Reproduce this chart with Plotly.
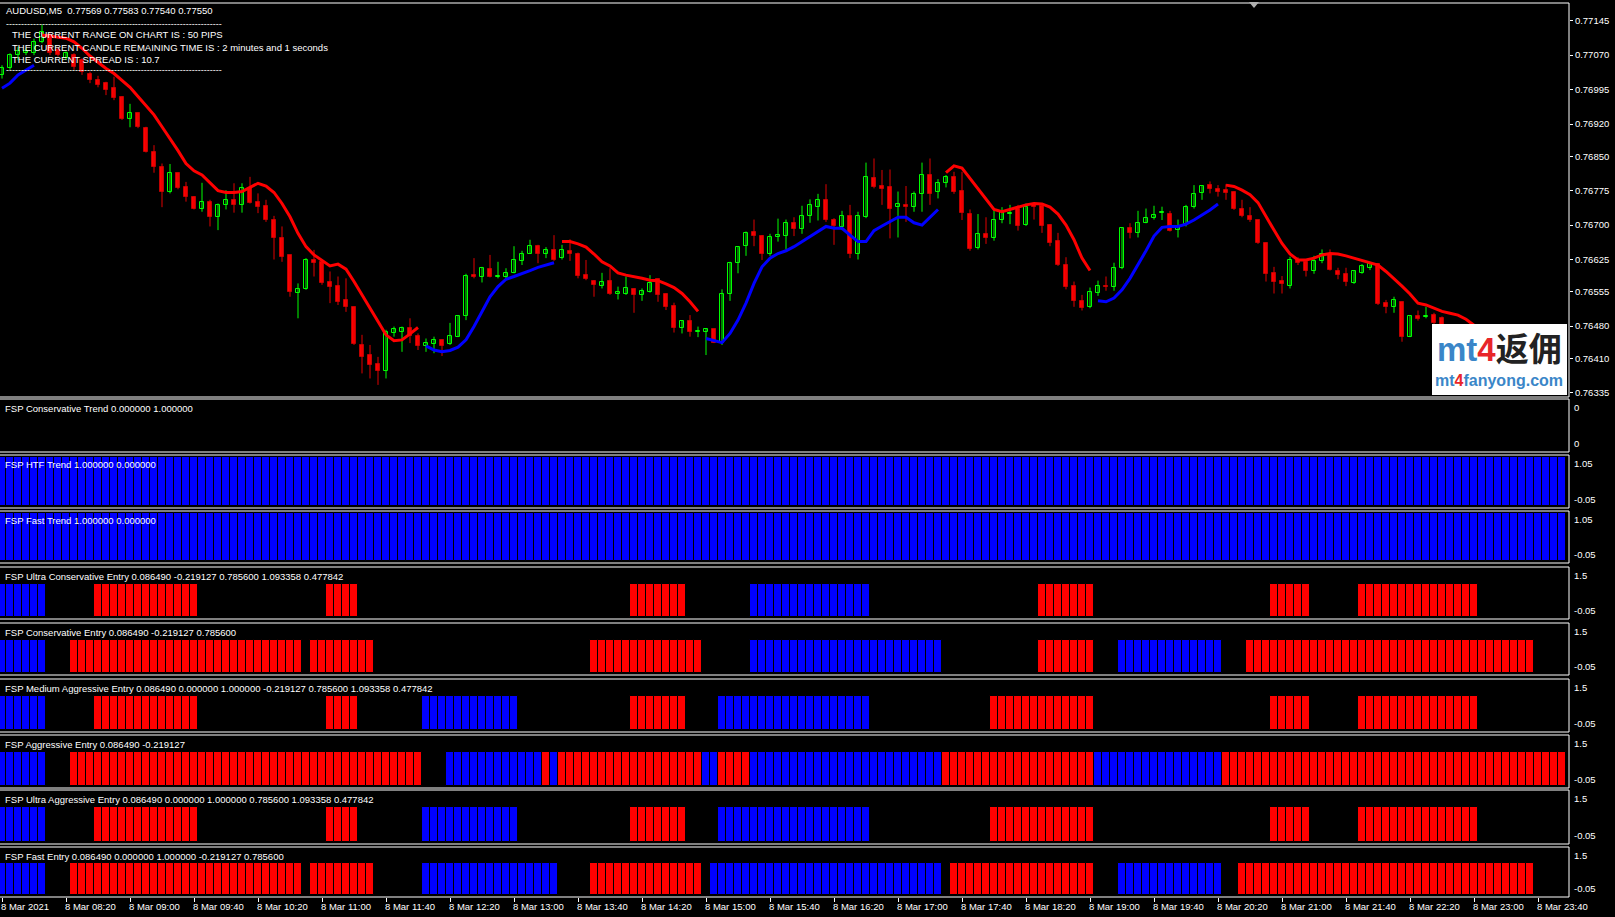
import plotly.graph_objects as go
import pandas as pd

W, H = 1615, 917
N = 196
times = pd.date_range("2021-03-08 07:40", periods=N, freq="5min")

# ---------------- candle data (AUDUSD M5) ----------------
ohlc = [
    (0.77027, 0.77048, 0.77019, 0.77041), (0.77041, 0.77074, 0.77038, 0.77070),
    (0.77070, 0.77088, 0.77059, 0.77078), (0.77074, 0.77085, 0.77070, 0.77078),
    (0.77074, 0.77106, 0.77070, 0.77099), (0.77099, 0.77136, 0.77096, 0.77121),
    (0.77114, 0.77117, 0.77070, 0.77074), (0.77081, 0.77088, 0.77067, 0.77070),
    (0.77063, 0.77078, 0.77059, 0.77074), (0.77070, 0.77074, 0.77038, 0.77045),
    (0.77059, 0.77063, 0.77027, 0.77034), (0.77030, 0.77034, 0.77009, 0.77016),
    (0.77016, 0.77025, 0.77000, 0.77005), (0.77009, 0.77012, 0.76983, 0.76994),
    (0.76998, 0.77023, 0.76972, 0.76976), (0.76978, 0.76980, 0.76929, 0.76932),
    (0.76930, 0.76964, 0.76913, 0.76945), (0.76943, 0.76945, 0.76911, 0.76913),
    (0.76911, 0.76914, 0.76858, 0.76860), (0.76860, 0.76874, 0.76814, 0.76827),
    (0.76827, 0.76834, 0.76739, 0.76771), (0.76771, 0.76833, 0.76769, 0.76813),
    (0.76813, 0.76814, 0.76778, 0.76780), (0.76782, 0.76794, 0.76751, 0.76762),
    (0.76762, 0.76763, 0.76734, 0.76736), (0.76736, 0.76792, 0.76729, 0.76750),
    (0.76750, 0.76755, 0.76697, 0.76718), (0.76718, 0.76747, 0.76689, 0.76744),
    (0.76744, 0.76776, 0.76734, 0.76755), (0.76755, 0.76791, 0.76727, 0.76744),
    (0.76744, 0.76791, 0.76727, 0.76781), (0.76780, 0.76805, 0.76747, 0.76749),
    (0.76751, 0.76769, 0.76726, 0.76740), (0.76742, 0.76755, 0.76707, 0.76711),
    (0.76711, 0.76720, 0.76625, 0.76671), (0.76672, 0.76697, 0.76620, 0.76631),
    (0.76634, 0.76634, 0.76544, 0.76555), (0.76553, 0.76573, 0.76497, 0.76560),
    (0.76560, 0.76628, 0.76559, 0.76624), (0.76625, 0.76646, 0.76588, 0.76617),
    (0.76620, 0.76624, 0.76570, 0.76573), (0.76577, 0.76599, 0.76530, 0.76566),
    (0.76567, 0.76588, 0.76526, 0.76533), (0.76537, 0.76584, 0.76511, 0.76521),
    (0.76522, 0.76522, 0.76439, 0.76441), (0.76439, 0.76461, 0.76377, 0.76412),
    (0.76417, 0.76439, 0.76366, 0.76395), (0.76398, 0.76413, 0.76352, 0.76383),
    (0.76383, 0.76472, 0.76366, 0.76468), (0.76464, 0.76479, 0.76457, 0.76473),
    (0.76468, 0.76479, 0.76424, 0.76475), (0.76475, 0.76497, 0.76443, 0.76458),
    (0.76458, 0.76464, 0.76428, 0.76437), (0.76437, 0.76453, 0.76424, 0.76443),
    (0.76441, 0.76457, 0.76421, 0.76450), (0.76450, 0.76451, 0.76415, 0.76437),
    (0.76441, 0.76487, 0.76439, 0.76458), (0.76457, 0.76504, 0.76456, 0.76502),
    (0.76502, 0.76594, 0.76493, 0.76589), (0.76591, 0.76628, 0.76584, 0.76588),
    (0.76586, 0.76609, 0.76575, 0.76606), (0.76604, 0.76635, 0.76586, 0.76588),
    (0.76588, 0.76620, 0.76584, 0.76589), (0.76586, 0.76606, 0.76584, 0.76596),
    (0.76596, 0.76654, 0.76595, 0.76625), (0.76622, 0.76644, 0.76613, 0.76638),
    (0.76638, 0.76668, 0.76637, 0.76654), (0.76655, 0.76657, 0.76617, 0.76638),
    (0.76637, 0.76652, 0.76628, 0.76646), (0.76646, 0.76678, 0.76622, 0.76624),
    (0.76628, 0.76657, 0.76625, 0.76646), (0.76644, 0.76669, 0.76622, 0.76638),
    (0.76638, 0.76640, 0.76584, 0.76589), (0.76591, 0.76624, 0.76580, 0.76582),
    (0.76579, 0.76580, 0.76544, 0.76570), (0.76568, 0.76596, 0.76562, 0.76577),
    (0.76578, 0.76606, 0.76548, 0.76550), (0.76551, 0.76566, 0.76538, 0.76554),
    (0.76551, 0.76588, 0.76548, 0.76562), (0.76560, 0.76562, 0.76509, 0.76547),
    (0.76547, 0.76562, 0.76535, 0.76556), (0.76555, 0.76591, 0.76553, 0.76573),
    (0.76582, 0.76583, 0.76533, 0.76547), (0.76549, 0.76551, 0.76515, 0.76522),
    (0.76524, 0.76531, 0.76466, 0.76475), (0.76475, 0.76493, 0.76464, 0.76492),
    (0.76492, 0.76504, 0.76457, 0.76468), (0.76468, 0.76479, 0.76456, 0.76470),
    (0.76468, 0.76475, 0.76417, 0.76473), (0.76473, 0.76474, 0.76443, 0.76444),
    (0.76443, 0.76560, 0.76439, 0.76551), (0.76551, 0.76620, 0.76535, 0.76618),
    (0.76617, 0.76654, 0.76595, 0.76653), (0.76654, 0.76686, 0.76633, 0.76682),
    (0.76684, 0.76712, 0.76654, 0.76676), (0.76676, 0.76678, 0.76624, 0.76638),
    (0.76638, 0.76681, 0.76633, 0.76673), (0.76675, 0.76714, 0.76664, 0.76678),
    (0.76676, 0.76712, 0.76647, 0.76704), (0.76704, 0.76717, 0.76676, 0.76691),
    (0.76691, 0.76742, 0.76681, 0.76720), (0.76720, 0.76756, 0.76705, 0.76743),
    (0.76740, 0.76768, 0.76710, 0.76755), (0.76755, 0.76789, 0.76707, 0.76712),
    (0.76712, 0.76715, 0.76657, 0.76698), (0.76695, 0.76731, 0.76689, 0.76720),
    (0.76720, 0.76744, 0.76628, 0.76638), (0.76638, 0.76729, 0.76625, 0.76720),
    (0.76718, 0.76836, 0.76715, 0.76804), (0.76802, 0.76845, 0.76780, 0.76782),
    (0.76785, 0.76820, 0.76744, 0.76779), (0.76782, 0.76821, 0.76671, 0.76734),
    (0.76739, 0.76773, 0.76673, 0.76746), (0.76744, 0.76785, 0.76707, 0.76739),
    (0.76739, 0.76773, 0.76729, 0.76768), (0.76768, 0.76836, 0.76729, 0.76809),
    (0.76809, 0.76845, 0.76744, 0.76768), (0.76771, 0.76800, 0.76758, 0.76791),
    (0.76792, 0.76809, 0.76782, 0.76804), (0.76804, 0.76816, 0.76768, 0.76773),
    (0.76774, 0.76816, 0.76711, 0.76726), (0.76724, 0.76734, 0.76644, 0.76647),
    (0.76649, 0.76724, 0.76647, 0.76681), (0.76681, 0.76717, 0.76659, 0.76671),
    (0.76671, 0.76733, 0.76666, 0.76711), (0.76711, 0.76739, 0.76704, 0.76728),
    (0.76724, 0.76744, 0.76702, 0.76726), (0.76736, 0.76744, 0.76688, 0.76698),
    (0.76700, 0.76747, 0.76698, 0.76739), (0.76744, 0.76747, 0.76712, 0.76740),
    (0.76742, 0.76744, 0.76683, 0.76698), (0.76700, 0.76702, 0.76654, 0.76662),
    (0.76665, 0.76683, 0.76611, 0.76613), (0.76613, 0.76630, 0.76560, 0.76566),
    (0.76567, 0.76577, 0.76522, 0.76535), (0.76535, 0.76548, 0.76514, 0.76519),
    (0.76521, 0.76564, 0.76519, 0.76555), (0.76553, 0.76579, 0.76546, 0.76567),
    (0.76568, 0.76588, 0.76557, 0.76566), (0.76566, 0.76618, 0.76557, 0.76606),
    (0.76606, 0.76695, 0.76604, 0.76693), (0.76693, 0.76704, 0.76671, 0.76683),
    (0.76682, 0.76731, 0.76673, 0.76705), (0.76705, 0.76736, 0.76704, 0.76715),
    (0.76715, 0.76742, 0.76712, 0.76723), (0.76726, 0.76740, 0.76711, 0.76727),
    (0.76724, 0.76731, 0.76686, 0.76688), (0.76689, 0.76712, 0.76673, 0.76695),
    (0.76702, 0.76744, 0.76697, 0.76740), (0.76739, 0.76787, 0.76736, 0.76768),
    (0.76769, 0.76787, 0.76755, 0.76785), (0.76787, 0.76795, 0.76769, 0.76778),
    (0.76778, 0.76787, 0.76762, 0.76773), (0.76776, 0.76789, 0.76755, 0.76769),
    (0.76771, 0.76773, 0.76733, 0.76734), (0.76734, 0.76755, 0.76717, 0.76720),
    (0.76720, 0.76739, 0.76707, 0.76710), (0.76710, 0.76710, 0.76659, 0.76660),
    (0.76662, 0.76662, 0.76577, 0.76594), (0.76595, 0.76609, 0.76551, 0.76577),
    (0.76579, 0.76589, 0.76551, 0.76572), (0.76567, 0.76631, 0.76562, 0.76625),
    (0.76625, 0.76630, 0.76613, 0.76617), (0.76620, 0.76622, 0.76588, 0.76601),
    (0.76599, 0.76633, 0.76594, 0.76622), (0.76622, 0.76647, 0.76617, 0.76637),
    (0.76637, 0.76647, 0.76601, 0.76602), (0.76601, 0.76607, 0.76582, 0.76591),
    (0.76594, 0.76607, 0.76567, 0.76575), (0.76573, 0.76602, 0.76572, 0.76601),
    (0.76596, 0.76615, 0.76594, 0.76611), (0.76607, 0.76620, 0.76602, 0.76615),
    (0.76615, 0.76617, 0.76526, 0.76528), (0.76531, 0.76537, 0.76508, 0.76522),
    (0.76522, 0.76544, 0.76509, 0.76537), (0.76533, 0.76533, 0.76446, 0.76457),
    (0.76457, 0.76504, 0.76456, 0.76501), (0.76501, 0.76514, 0.76492, 0.76495),
    (0.76499, 0.76522, 0.76497, 0.76501), (0.76504, 0.76509, 0.76482, 0.76486),
    (0.76497, 0.76501, 0.76472, 0.76479), (0.76479, 0.76483, 0.76455, 0.76462),
    (0.76462, 0.76475, 0.76450, 0.76470), (0.76470, 0.76478, 0.76448, 0.76452),
    (0.76452, 0.76466, 0.76440, 0.76460), (0.76460, 0.76470, 0.76445, 0.76449),
    (0.76449, 0.76458, 0.76430, 0.76436), (0.76436, 0.76452, 0.76428, 0.76447),
    (0.76447, 0.76455, 0.76432, 0.76438), (0.76438, 0.76446, 0.76420, 0.76426),
    (0.76426, 0.76440, 0.76418, 0.76435), (0.76435, 0.76442, 0.76421, 0.76428),
    (0.76428, 0.76437, 0.76415, 0.76420), (0.76420, 0.76433, 0.76412, 0.76430),
    (0.76430, 0.76436, 0.76418, 0.76424), (0.76424, 0.76432, 0.76419, 0.76428),
]
open_ = [r[0] for r in ohlc]
high = [r[1] for r in ohlc]
low = [r[2] for r in ohlc]
close = [r[3] for r in ohlc]

# ---------------- trend line (red = down, blue = up) ----------------
trend_line = [
    0.76998, 0.77009, 0.77027, 0.77038, 0.77048,
    0.77114, 0.77112, 0.77110, 0.77107, 0.77099, 0.77085, 0.77068, 0.77054, 0.77041, 0.77030,
    0.77016, 0.77000, 0.76980, 0.76959, 0.76940, 0.76914, 0.76889, 0.76862, 0.76834, 0.76818,
    0.76809, 0.76791, 0.76775, 0.76771, 0.76771, 0.76773, 0.76782, 0.76791, 0.76785, 0.76771,
    0.76747, 0.76718, 0.76682, 0.76653, 0.76635, 0.76623, 0.76611, 0.76615, 0.76604, 0.76577,
    0.76548, 0.76519, 0.76488, 0.76461, 0.76448, 0.76450, 0.76463, 0.76477,
    0.76437, 0.76428, 0.76424, 0.76427, 0.76434, 0.76450, 0.76479, 0.76512, 0.76544, 0.76566,
    0.76582, 0.76588, 0.76594, 0.76601, 0.76608, 0.76613, 0.76618,
    0.76664, 0.76664, 0.76659, 0.76652, 0.76637, 0.76620, 0.76611, 0.76596, 0.76591, 0.76588,
    0.76584, 0.76580, 0.76579, 0.76572, 0.76564, 0.76551, 0.76533, 0.76512,
    0.76453, 0.76448, 0.76444, 0.76464, 0.76493, 0.76530, 0.76573, 0.76609, 0.76628, 0.76638,
    0.76644, 0.76653, 0.76664, 0.76676, 0.76686, 0.76697, 0.76693, 0.76693, 0.76678, 0.76664,
    0.76664, 0.76688, 0.76698, 0.76707, 0.76717, 0.76717, 0.76705, 0.76700, 0.76717, 0.76734,
    0.76814, 0.76829, 0.76824, 0.76802, 0.76778, 0.76756, 0.76734, 0.76729, 0.76734, 0.76739,
    0.76744, 0.76747, 0.76746, 0.76739, 0.76724, 0.76700, 0.76668, 0.76628, 0.76601,
    0.76535, 0.76533, 0.76541, 0.76559, 0.76584, 0.76613, 0.76644, 0.76676, 0.76695, 0.76697,
    0.76697, 0.76702, 0.76711, 0.76722, 0.76733, 0.76746,
    0.76787, 0.76784, 0.76776, 0.76766, 0.76749, 0.76718, 0.76689, 0.76660, 0.76637, 0.76624,
    0.76624, 0.76628, 0.76635, 0.76638, 0.76637, 0.76633, 0.76628, 0.76622, 0.76618, 0.76613,
    0.76599, 0.76584, 0.76567, 0.76550, 0.76530, 0.76526, 0.76519, 0.76512, 0.76508, 0.76504,
    0.76495, 0.76482, 0.76472, 0.76463, 0.76453, 0.76446, 0.76439, 0.76432, 0.76427, 0.76422,
    0.76419, 0.76416, 0.76414,
]
trend_dir = [("up", 5), ("dn", 48), ("up", 17), ("dn", 18), ("up", 30), ("dn", 19), ("up", 16), ("dn", 43)]

# ---------------- indicator states (B = buy/blue, R = sell/red, - = none) ----------------
cons_trend = [("-", 196)]
htf_trend = [("B", 196)]
fast_trend = [("B", 196)]
ultra_cons_entry = [("B", 6), ("-", 6), ("R", 13), ("-", 16), ("R", 4), ("-", 34), ("R", 7), ("-", 8),
                    ("B", 15), ("-", 21), ("R", 7), ("-", 22), ("R", 5), ("-", 6), ("R", 15), ("-", 11)]
cons_entry = [("B", 6), ("-", 3), ("R", 29), ("-", 1), ("R", 8), ("-", 27), ("R", 14), ("-", 6),
              ("B", 24), ("-", 12), ("R", 7), ("-", 3), ("B", 13), ("-", 3), ("R", 36), ("-", 4)]
medium_agg_entry = [("B", 6), ("-", 6), ("R", 13), ("-", 16), ("R", 4), ("-", 8), ("B", 12), ("-", 14),
                    ("R", 7), ("-", 4), ("B", 19), ("-", 15), ("R", 13), ("-", 22), ("R", 5), ("-", 6),
                    ("R", 15), ("-", 11)]
agg_entry = [("B", 6), ("-", 3), ("R", 44), ("-", 3), ("B", 12), ("R", 1), ("B", 1), ("R", 18),
             ("B", 2), ("R", 4), ("B", 24), ("R", 19), ("B", 16), ("R", 43)]
ultra_agg_entry = [("B", 6), ("-", 6), ("R", 13), ("-", 16), ("R", 4), ("-", 8), ("B", 12), ("-", 14),
                   ("R", 7), ("-", 4), ("B", 19), ("-", 15), ("R", 13), ("-", 22), ("R", 5), ("-", 6),
                   ("R", 15), ("-", 11)]
fast_entry = [("B", 6), ("-", 3), ("R", 29), ("-", 1), ("R", 8), ("-", 6), ("B", 17), ("-", 4),
              ("R", 14), ("-", 1), ("B", 29), ("-", 1), ("R", 18), ("-", 3), ("B", 13), ("-", 2),
              ("R", 37), ("-", 4)]

price_ticks = [0.77145, 0.77070, 0.76995, 0.76920, 0.76850, 0.76775, 0.76700,
               0.76625, 0.76555, 0.76480, 0.76410, 0.76335]
time_labels = ["8 Mar 2021", "8 Mar 08:20", "8 Mar 09:00", "8 Mar 09:40", "8 Mar 10:20", "8 Mar 11:00",
               "8 Mar 11:40", "8 Mar 12:20", "8 Mar 13:00", "8 Mar 13:40", "8 Mar 14:20", "8 Mar 15:00",
               "8 Mar 15:40", "8 Mar 16:20", "8 Mar 17:00", "8 Mar 17:40", "8 Mar 18:20", "8 Mar 19:00",
               "8 Mar 19:40", "8 Mar 20:20", "8 Mar 21:00", "8 Mar 21:40", "8 Mar 22:20", "8 Mar 23:00",
               "8 Mar 23:40"]

panel_titles = [
    "FSP Conservative Trend 0.000000 1.000000",
    "FSP HTF Trend 1.000000 0.000000",
    "FSP Fast Trend 1.000000 0.000000",
    "FSP Ultra Conservative Entry 0.086490 -0.219127 0.785600 1.093358 0.477842",
    "FSP Conservative Entry 0.086490 -0.219127 0.785600",
    "FSP Medium Aggressive Entry 0.086490 0.000000 1.000000 -0.219127 0.785600 1.093358 0.477842",
    "FSP Aggressive Entry 0.086490 -0.219127",
    "FSP Ultra Aggressive Entry 0.086490 0.000000 1.000000 0.785600 1.093358 0.477842",
    "FSP Fast Entry 0.086490 0.000000 1.000000 -0.219127 0.785600",
]
panel_data = [cons_trend, htf_trend, fast_trend, ultra_cons_entry, cons_entry,
              medium_agg_entry, agg_entry, ultra_agg_entry, fast_entry]
panel_scale = [("0", "0"), ("1.05", "-0.05"), ("1.05", "-0.05")] + [("1.5", "-0.05")] * 6
panel_range = [[-1, 1], [-0.05, 1.05], [-0.05, 1.05]] + [[-0.05, 1.5]] * 6

# ---------------- layout geometry (pixels) ----------------
FONT = "Liberation Sans, Arial, sans-serif"
BLUE, RED = "#0000ff", "#ff0000"
XR = 1569 / W
panes = [(3, 397), (399, 452), (455, 508), (511, 563), (567, 619),
         (623, 675), (679, 732), (735, 788), (790, 844), (847, 897)]


def yp(px):
    return 1 - px / H


def xp(px):
    return px / W


def expand(runs):
    out = []
    for s, n in runs:
        out += [s] * n
    return out


idx = list(range(N))
fig = go.Figure()

# wicks
for up in (True, False):
    xs, ys = [], []
    for i in idx:
        if (close[i] >= open_[i]) == up:
            xs += [i, i, None]
            ys += [low[i], high[i], None]
    fig.add_trace(go.Scatter(x=xs, y=ys, mode="lines", xaxis="x", yaxis="y",
                             line=dict(color="#00ff00" if up else "#e00000", width=1),
                             hoverinfo="skip"))
# bodies
for up in (True, False):
    bx, bb, bh = [], [], []
    for i in idx:
        if (close[i] >= open_[i]) == up:
            lo, hi = min(open_[i], close[i]), max(open_[i], close[i])
            bx.append(i)
            bb.append(lo)
            bh.append(max(hi - lo, 0.00002))
    fig.add_trace(go.Bar(x=bx, y=bh, base=bb, width=0.55, xaxis="x", yaxis="y",
                         marker=dict(color="#000000" if up else "#ff0000",
                                     line=dict(color="#00ff00" if up else "#c00000", width=1)),
                         hoverinfo="skip"))
# trend line
dirs = expand(trend_dir)
for d, col in (("dn", RED), ("up", BLUE)):
    ys = [trend_line[i] if dirs[i] == d else None for i in idx]
    fig.add_trace(go.Scatter(x=idx, y=ys, mode="lines", xaxis="x", yaxis="y", connectgaps=False,
                             line=dict(color=col, width=3), hoverinfo="skip"))

# indicator panels
for k, runs in enumerate(panel_data):
    st = expand(runs)
    ax = k + 2
    xs = [i for i in idx if st[i] != "-"]
    cols = [BLUE if st[i] == "B" else RED for i in xs]
    if xs:
        fig.add_trace(go.Bar(x=xs, y=[1] * len(xs), width=1.0, xaxis=f"x{ax}", yaxis=f"y{ax}",
                             marker=dict(color=cols, line=dict(color="#000000", width=1)),
                             hoverinfo="skip"))
    else:
        fig.add_trace(go.Scatter(x=[None], y=[None], xaxis=f"x{ax}", yaxis=f"y{ax}", hoverinfo="skip"))

layout = dict(width=W, height=H, margin=dict(l=0, r=0, t=0, b=0, pad=0, autoexpand=False),
              paper_bgcolor="#000000", plot_bgcolor="#000000", showlegend=False,
              barmode="overlay", bargap=0)

pmax = 0.77145 + (20.7 - 3) / 45926
pmin = 0.77145 - (397 - 20.7) / 45926
tick_pos = [i for i in idx if times[i].strftime("%H:%M") in
            [t.split(" ")[-1] for t in time_labels[1:]]]
tick_pos = [0] + tick_pos

for k, (top, bot) in enumerate(panes):
    n = k + 1
    xa = dict(domain=[0, XR], range=[-0.25, 195.875], anchor=f"y{n}", showgrid=False,
              zeroline=False, showticklabels=False, showline=False, fixedrange=True, automargin=False)
    if n > 1:
        xa["matches"] = "x"
    if n == len(panes):
        xa.update(ticks="outside", tickvals=tick_pos, ticklen=4, tickcolor="#ffffff", tickwidth=1)
    else:
        xa["ticks"] = ""
    ya = dict(domain=[yp(bot), yp(top)], anchor=f"x{n}", showgrid=False, zeroline=False,
              showticklabels=False, fixedrange=True, showline=False, automargin=False)
    if n == 1:
        ya.update(range=[pmin, pmax], side="right", showticklabels=True, tickvals=price_ticks,
                  ticktext=[f"{v:.5f}" for v in price_ticks], ticks="outside", ticklen=3,
                  tickcolor="#ffffff", tickfont=dict(color="#ffffff", size=9.5, family=FONT))
    else:
        ya["range"] = panel_range[k - 1]
    layout["xaxis" if n == 1 else f"xaxis{n}"] = xa
    layout["yaxis" if n == 1 else f"yaxis{n}"] = ya

shapes = []
# logo background
shapes.append(dict(type="rect", xref="paper", yref="paper", x0=xp(1432), x1=xp(1567),
                   y0=yp(395), y1=yp(324), fillcolor="#ffffff", line=dict(width=0), layer="above"))
for top, bot in panes:
    shapes.append(dict(type="rect", xref="paper", yref="paper", x0=-0.01, x1=XR,
                       y0=yp(bot), y1=yp(top), line=dict(color="#ffffff", width=1), layer="above"))
# shift marker
shapes.append(dict(type="path", xref="paper", yref="paper",
                   path=f"M {xp(1249)},{yp(2)} L {xp(1259)},{yp(2)} L {xp(1254)},{yp(8)} Z",
                   fillcolor="#b0b0b0", line=dict(width=0), layer="above"))
layout["shapes"] = shapes

ann = []
wf = dict(color="#ffffff", size=9.5, family=FONT)


def txt(x, y, s, size=9.5, xanchor="left", yanchor="middle", **kw):
    d = dict(xref="paper", yref="paper", x=xp(x), y=yp(y), text=s, showarrow=False,
             xanchor=xanchor, yanchor=yanchor, font=dict(color="#ffffff", size=size, family=FONT))
    d.update(kw)
    ann.append(d)


txt(4, 11, "AUDUSD,M5\u00a0 0.77569 0.77583 0.77540 0.77550")
txt(4, 24, "-" * 72, size=9)
txt(10, 35, "THE CURRENT RANGE ON CHART IS : 50 PIPS", size=9.5)
txt(10, 47.5, "THE CURRENT CANDLE REMAINING TIME IS : 2 minutes and 1 seconds", size=9.5)
txt(10, 59.5, "THE CURRENT SPREAD IS : 10.7", size=9.5)
txt(4, 70, "-" * 72, size=9)

for k, title in enumerate(panel_titles):
    top, bot = panes[k + 1]
    txt(3, top + 9, title)
    hi_lbl, lo_lbl = panel_scale[k]
    txt(1572, top + 1, hi_lbl, yanchor="top")
    txt(1572, bot - 1, lo_lbl, yanchor="bottom")

for lbl, pos in zip(time_labels, tick_pos):
    ann.append(dict(xref="x10", yref="paper", x=pos, y=yp(899), text=lbl, showarrow=False,
                    xanchor="left", yanchor="top", xshift=-3, font=wf))

# watermark logo
LF = "Liberation Sans, Noto Sans CJK SC, sans-serif"
ann.append(dict(xref="paper", yref="paper", x=xp(1499), y=yp(349), showarrow=False,
                xanchor="center", yanchor="middle",
                text="<b><span style='color:#3a86c8'>mt</span><span style='color:#e8262a'>4</span>"
                     "<span style='color:#222222'>返佣</span></b>",
                font=dict(size=33, family=LF)))
ann.append(dict(xref="paper", yref="paper", x=xp(1499), y=yp(380), showarrow=False,
                xanchor="center", yanchor="middle",
                text="<b><span style='color:#3a86c8'>mt</span><span style='color:#e8262a'>4</span>"
                     "<span style='color:#3a86c8'>fanyong.com</span></b>",
                font=dict(size=16, family=LF)))
layout["annotations"] = ann

fig.update_layout(**layout)
fig.write_html("out.html", config={"displayModeBar": False},
               post_script="document.body.style.margin='0';document.body.style.background='#000';")
